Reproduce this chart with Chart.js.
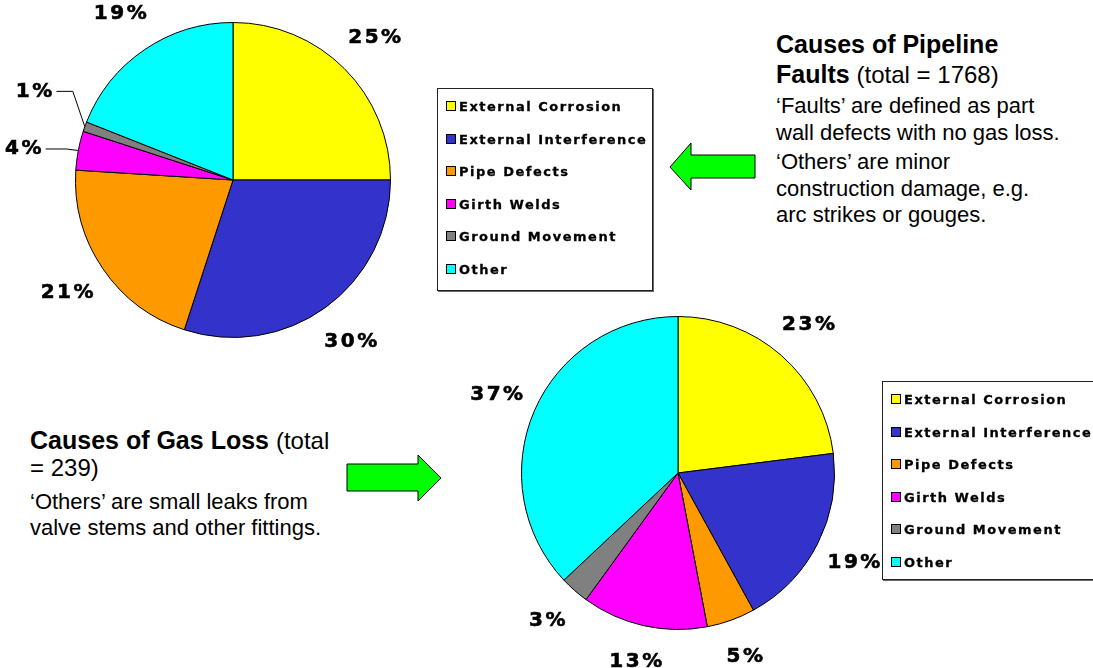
<!DOCTYPE html>
<html>
<head>
<meta charset="utf-8">
<script src="https://cdn.jsdelivr.net/npm/chart.js@4.4.1/dist/chart.umd.min.js"></script>
<style>
  body { margin: 0; width: 1093px; height: 668px; background: #fff; position: relative; overflow: hidden; font-family: "Liberation Sans", Arial, sans-serif; }
  .pie { position: absolute; }
  .legend { position: absolute; background: #fff; border: 1px solid #222; box-shadow: 1px 1px 0 #666; z-index: 2; }
  .legend div { height: 32.6px; line-height: 32.6px; font-family: "DejaVu Sans", sans-serif; font-weight: bold; font-size: 13px; letter-spacing: 1.5px; white-space: nowrap; color: #000; -webkit-text-stroke: 0.3px #000; }
  .legend span { display: inline-block; width: 8px; height: 8px; border: 1px solid #000; margin-right: 3px; vertical-align: 0px; -webkit-text-stroke: 0; }
  .note { position: absolute; color: #000; }
  .note h3 { margin: 0; font-size: 25px; font-weight: normal; }
  .note h3 b { font-size: 25px; }
  .note h3 small { font-size: 24px; }
  .note p { margin: 3px 0 0 0; font-size: 22px; line-height: 26.5px; }
  svg { position: absolute; left: 0; top: 0; }
</style>
</head>
<body>
  <canvas id="faultChart" class="pie" width="466" height="360" style="left:0;top:0;width:466px;height:360px"></canvas>
  <canvas id="gasChart" class="pie" width="466" height="400" style="left:445px;top:273px;width:466px;height:400px"></canvas>

  <div id="legend1" class="legend" style="left:437px;top:88px;width:214px;height:199px;padding-top:2px"></div>
  <div id="legend2" class="legend" style="left:882px;top:381px;width:230px;height:195px;padding-top:2px"></div>

  <div class="note" style="left:776px;top:29px;width:310px">
    <h3 style="line-height:30px"><b>Causes of Pipeline<br>Faults</b> <small>(total = 1768)</small></h3>
    <p>‘Faults’ are defined as part<br>wall defects with no gas loss.</p>
    <p>‘Others’ are minor<br>construction damage, e.g.<br>arc strikes or gouges.</p>
  </div>
  <div class="note" style="left:30px;top:427px;width:330px">
    <h3 style="line-height:27px"><b>Causes of Gas Loss</b> <small>(total<br>= 239)</small></h3>
    <p style="margin-top:8px;line-height:26px">‘Others’ are small leaks from<br>valve stems and other fittings.</p>
  </div>

  <svg width="1093" height="668">
    <polygon points="670,167 691,143 691,155 755,155 755,178 691,178 691,190" fill="#00ff00" stroke="#000" stroke-width="1"/>
    <polygon points="347,464 418,464 418,455 441,478 418,501 418,491 347,491" fill="#00ff00" stroke="#000" stroke-width="1"/>
  </svg>

<script>
// categories shared by both pies
const categories = ["External Corrosion", "External Interference", "Pipe Defects", "Girth Welds", "Ground Movement", "Other"];
// percentage of pipeline faults (total = 1768)
const faultPercents = [25, 30, 21, 4, 1, 19];
// percentage of gas loss incidents (total = 239)
const gasLossPercents = [23, 19, 5, 13, 3, 37];

const sliceColors = ["#ffff00", "#3333cc", "#ff9900", "#ff00ff", "#808080", "#00ffff"];

// legends
function buildLegend(id) {
  const box = document.getElementById(id);
  categories.forEach((c, i) => {
    const row = document.createElement("div");
    row.style.paddingLeft = "8px";
    row.innerHTML = `<span style="background:${sliceColors[i]}"></span>${c}`;
    box.appendChild(row);
  });
}
buildLegend("legend1");
buildLegend("legend2");

// percent labels outside the slices (leader lines for the thin ones)
const pctLabels = {
  id: "pctLabels",
  afterDatasetsDraw(chart, args, opts) {
    const ctx = chart.ctx;
    const meta = chart.getDatasetMeta(0);
    const values = chart.data.datasets[0].data;
    ctx.save();
    ctx.font = "bold 20px 'DejaVu Sans', sans-serif";
    ctx.letterSpacing = "2.5px";
    ctx.fillStyle = "#000";
    ctx.strokeStyle = "#000";
    ctx.textAlign = "center";
    ctx.textBaseline = "middle";
    meta.data.forEach((arc, i) => {
      const p = arc.getProps(["x", "y", "startAngle", "endAngle", "outerRadius"], true);
      const mid = (p.startAngle + p.endAngle) / 2;
      const nudge = (opts.nudge && opts.nudge[i]) || [0, 0];
      const d = p.outerRadius + opts.offset + nudge[0];
      const lx = p.x + Math.cos(mid) * d;
      const ly = p.y + Math.sin(mid) * d + nudge[1];
      const txt = values[i] + "%";
      ctx.lineWidth = 0.6;
      ctx.fillText(txt, lx + 1.2, ly);
      ctx.strokeText(txt, lx + 1.2, ly);
      if (opts.leader && opts.leader[i]) {
        const w = ctx.measureText(txt).width;
        const ex = p.x + Math.cos(mid) * p.outerRadius;
        const ey = p.y + Math.sin(mid) * p.outerRadius;
        ctx.beginPath();
        ctx.lineWidth = 1;
        ctx.moveTo(ex, ey);
        ctx.lineTo(ex - 12, ly);
        ctx.lineTo(lx + w / 2 + 3, ly);
        ctx.stroke();
      }
    });
    ctx.restore();
  }
};

function makePie(id, values, padding, labelOpts) {
  new Chart(document.getElementById(id), {
    type: "pie",
    data: {
      labels: categories,
      datasets: [{
        data: values,
        backgroundColor: sliceColors,
        borderColor: "#000",
        borderWidth: 1,
      }],
    },
    options: {
      responsive: false,
      animation: false,
      layout: { padding: padding },
      plugins: {
        legend: { display: false },
        tooltip: { enabled: false },
        pctLabels: labelOpts,
      },
    },
    plugins: [pctLabels],
  });
}

makePie("faultChart", faultPercents, 22, {
  offset: 43,
  leader: [false, false, false, true, true, false],
  nudge: { 3: [13, 9], 4: [11, -17] },
});
makePie("gasChart", gasLossPercents, { top: 43, bottom: 43, left: 22, right: 22 }, {
  offset: 41,
  nudge: { 2: [0, -2], 3: [-4, 0] },
});
</script>
</body>
</html>
